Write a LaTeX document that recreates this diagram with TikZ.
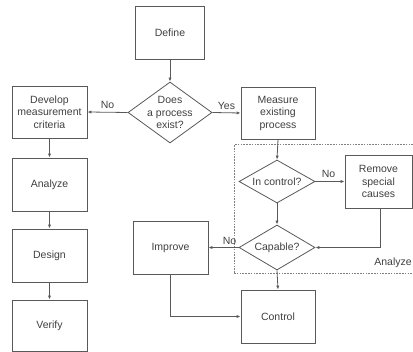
\documentclass[tikz,border=0pt]{standalone}
\usepackage{fontspec}
\setmainfont{Liberation Sans}
\usetikzlibrary{shapes.geometric,arrows.meta}
\definecolor{ln}{gray}{0.35}
\definecolor{dl}{gray}{0.5}
\definecolor{tx}{gray}{0.25}
\tikzset{
  every node/.style={text=tx,font=\fontsize{10.5}{12.5}\selectfont},
  stepbox/.style={draw=ln,line width=0.8pt,rectangle,align=center,inner sep=0pt,fill=white},
  decide/.style={draw=ln,line width=0.8pt,diamond,inner sep=0pt,fill=white},
  lbl/.style={align=center,inner sep=0pt},
  conn/.style={draw=ln,line width=0.8pt,-{Latex[length=4pt,width=3.2pt]}},
}
\begin{document}
\begin{tikzpicture}[x=1pt,y=-1pt]
\useasboundingbox (0,0) rectangle (413,352);
% dashed analyze region
\draw[dl,line width=1pt,dash pattern=on 1.6pt off 1.2pt] (413,145) -- (234,145) -- (234,274) -- (413,274);
\node[lbl] (analyzelbl) at (393,263) {Analyze};

\node[stepbox,minimum width=69pt,minimum height=53pt] (define) at (170,32.5) {Define};
\node[decide,minimum width=84pt,minimum height=61pt] (does) at (170,112.5) {};
\node[lbl] at (does) {Does\\a process\\exist?};
\node[stepbox,minimum width=75pt,minimum height=52pt] (develop) at (49.5,112) {Develop\\measurement\\criteria};
\node[stepbox,minimum width=75pt,minimum height=53pt] (analyze) at (49.5,184.5) {Analyze};
\node[stepbox,minimum width=75pt,minimum height=53pt] (design) at (49.5,255.5) {Design};
\node[stepbox,minimum width=75pt,minimum height=51pt] (verify) at (49.5,325.5) {Verify};
\node[stepbox,minimum width=74pt,minimum height=52pt] (measure) at (278,113) {Measure\\existing\\process};
\node[decide,minimum width=76pt,minimum height=43pt] (inctrl) at (277,181.5) {};
\node[lbl] at (inctrl) {In control?};
\node[stepbox,minimum width=67pt,minimum height=53pt] (remove) at (378.5,181.5) {Remove\\special\\causes};
\node[decide,minimum width=76pt,minimum height=45pt] (capable) at (277,247.5) {};
\node[lbl] at (capable) {Capable?};
\node[stepbox,minimum width=75pt,minimum height=53pt] (improve) at (170.5,247.5) {Improve};
\node[stepbox,minimum width=74pt,minimum height=53pt] (control) at (278,316.5) {Control};
\coordinate (rmv) at (380,208);

\draw[conn] (define.south) -- (does.north);
\draw[conn] (does.west) -- node[lbl,above=3pt] {No} (develop.east);
\draw[conn] (does.east) -- node[lbl,above=3pt] {Yes} (measure.west);
\draw[conn] (develop) -- (analyze);
\draw[conn] (analyze) -- (design);
\draw[conn] (design) -- (verify);
\draw[conn] (measure.south) -- (inctrl.north);
\draw[conn] (inctrl.east) -- node[lbl,above=3pt,pos=0.45] {No} (remove.west);
\draw[conn] (inctrl.south) -- (capable.north);
\draw[conn] (capable.west) -- node[lbl,above=2.5pt,pos=0.3] {No} (improve.east);
\draw[conn] (capable.south) -- (control.north);
\draw[conn] (rmv) |- (capable.east);
\draw[conn] (improve.south) |- (control.west);
\end{tikzpicture}
\end{document}
